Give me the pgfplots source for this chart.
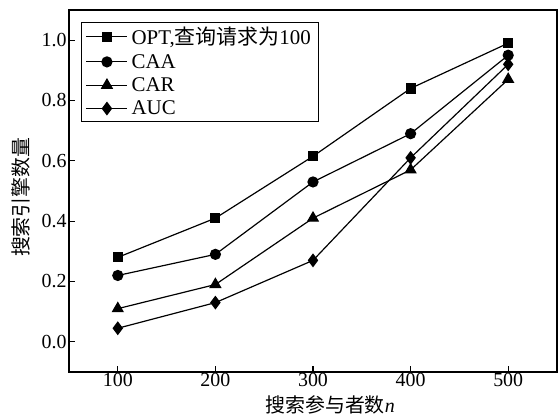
\documentclass[border=0pt]{standalone}
\usepackage{fontspec}
\setmainfont{Liberation Serif}
\newfontfamily\cjk{Noto Sans CJK SC}
\usepackage{pgfplots}
\pgfplotsset{compat=1.18}
\begin{document}
\begin{tikzpicture}
\begin{axis}[
  scale only axis,
  width=488bp, height=362bp,
  xmin=50, xmax=550, ymin=-0.1, ymax=1.1,
  xtick={100,200,300,400,500},
  ytick={0,0.2,0.4,0.6,0.8,1.0},
  yticklabel style={xshift=1bp, /pgf/number format/.cd,fixed,fixed zerofill,precision=1},
  /pgf/number format/assume math mode=true,
  tick align=inside,
  major tick length=6bp,
  tick style={line width=1.2pt, black},
  xtick pos=bottom, ytick pos=left,
  axis line style={line width=1.3pt},
  ticklabel style={font=\fontsize{20}{20}\selectfont},
  xticklabel style={yshift=2bp},
  xlabel={\cjk 搜索参与者数\rmfamily\itshape n},
  ylabel={\cjk 搜索引擎数量},
  label style={font=\fontsize{20}{20}\selectfont},
  xlabel style={at={(axis description cs:0.535,-0.091)}, anchor=center},
  ylabel style={at={(axis description cs:-0.098,0.483)}, anchor=center},
  legend style={at={(axis description cs:0.025,0.968)}, anchor=north west,
    draw=black, line width=1.2pt, font=\fontsize{21}{21}\selectfont,
    row sep=4bp, inner xsep=4bp, inner ysep=3bp,
    nodes={inner xsep=3.5bp}},
  legend cell align=left,
  legend image code/.code={
    \draw[#1, line width=1.2pt] (0cm,0cm) -- (1.45cm,0cm);
    \draw[#1, mark repeat=2, mark phase=2] plot coordinates {(0cm,0cm) (0.725cm,0cm) (1.45cm,0cm)};
  },
  every axis plot/.append style={black, line width=1.2pt, mark size=5bp},
]
\addplot[mark=square*, mark size=4.5bp] coordinates {(100,0.28) (200,0.41) (300,0.615) (400,0.84) (500,0.99)};
\addlegendentry{OPT,{\cjk 查询请求为}100}
\addplot[mark=*] coordinates {(100,0.22) (200,0.29) (300,0.53) (400,0.69) (500,0.95)};
\addlegendentry{CAA}
\addplot[mark=triangle*, mark size=6bp] coordinates {(100,0.11) (200,0.19) (300,0.41) (400,0.57) (500,0.87)};
\addlegendentry{CAR}
\addplot[mark=diamond*, mark size=6bp] coordinates {(100,0.045) (200,0.13) (300,0.27) (400,0.61) (500,0.92)};
\addlegendentry{AUC}
\end{axis}
\pgfresetboundingbox
\path (current axis.south west) ++(-69bp,-45bp) coordinate (bl);
\path (current axis.north east) ++(1bp,10bp) coordinate (tr);
\path[use as bounding box] (bl) rectangle (tr);
\end{tikzpicture}
\end{document}
